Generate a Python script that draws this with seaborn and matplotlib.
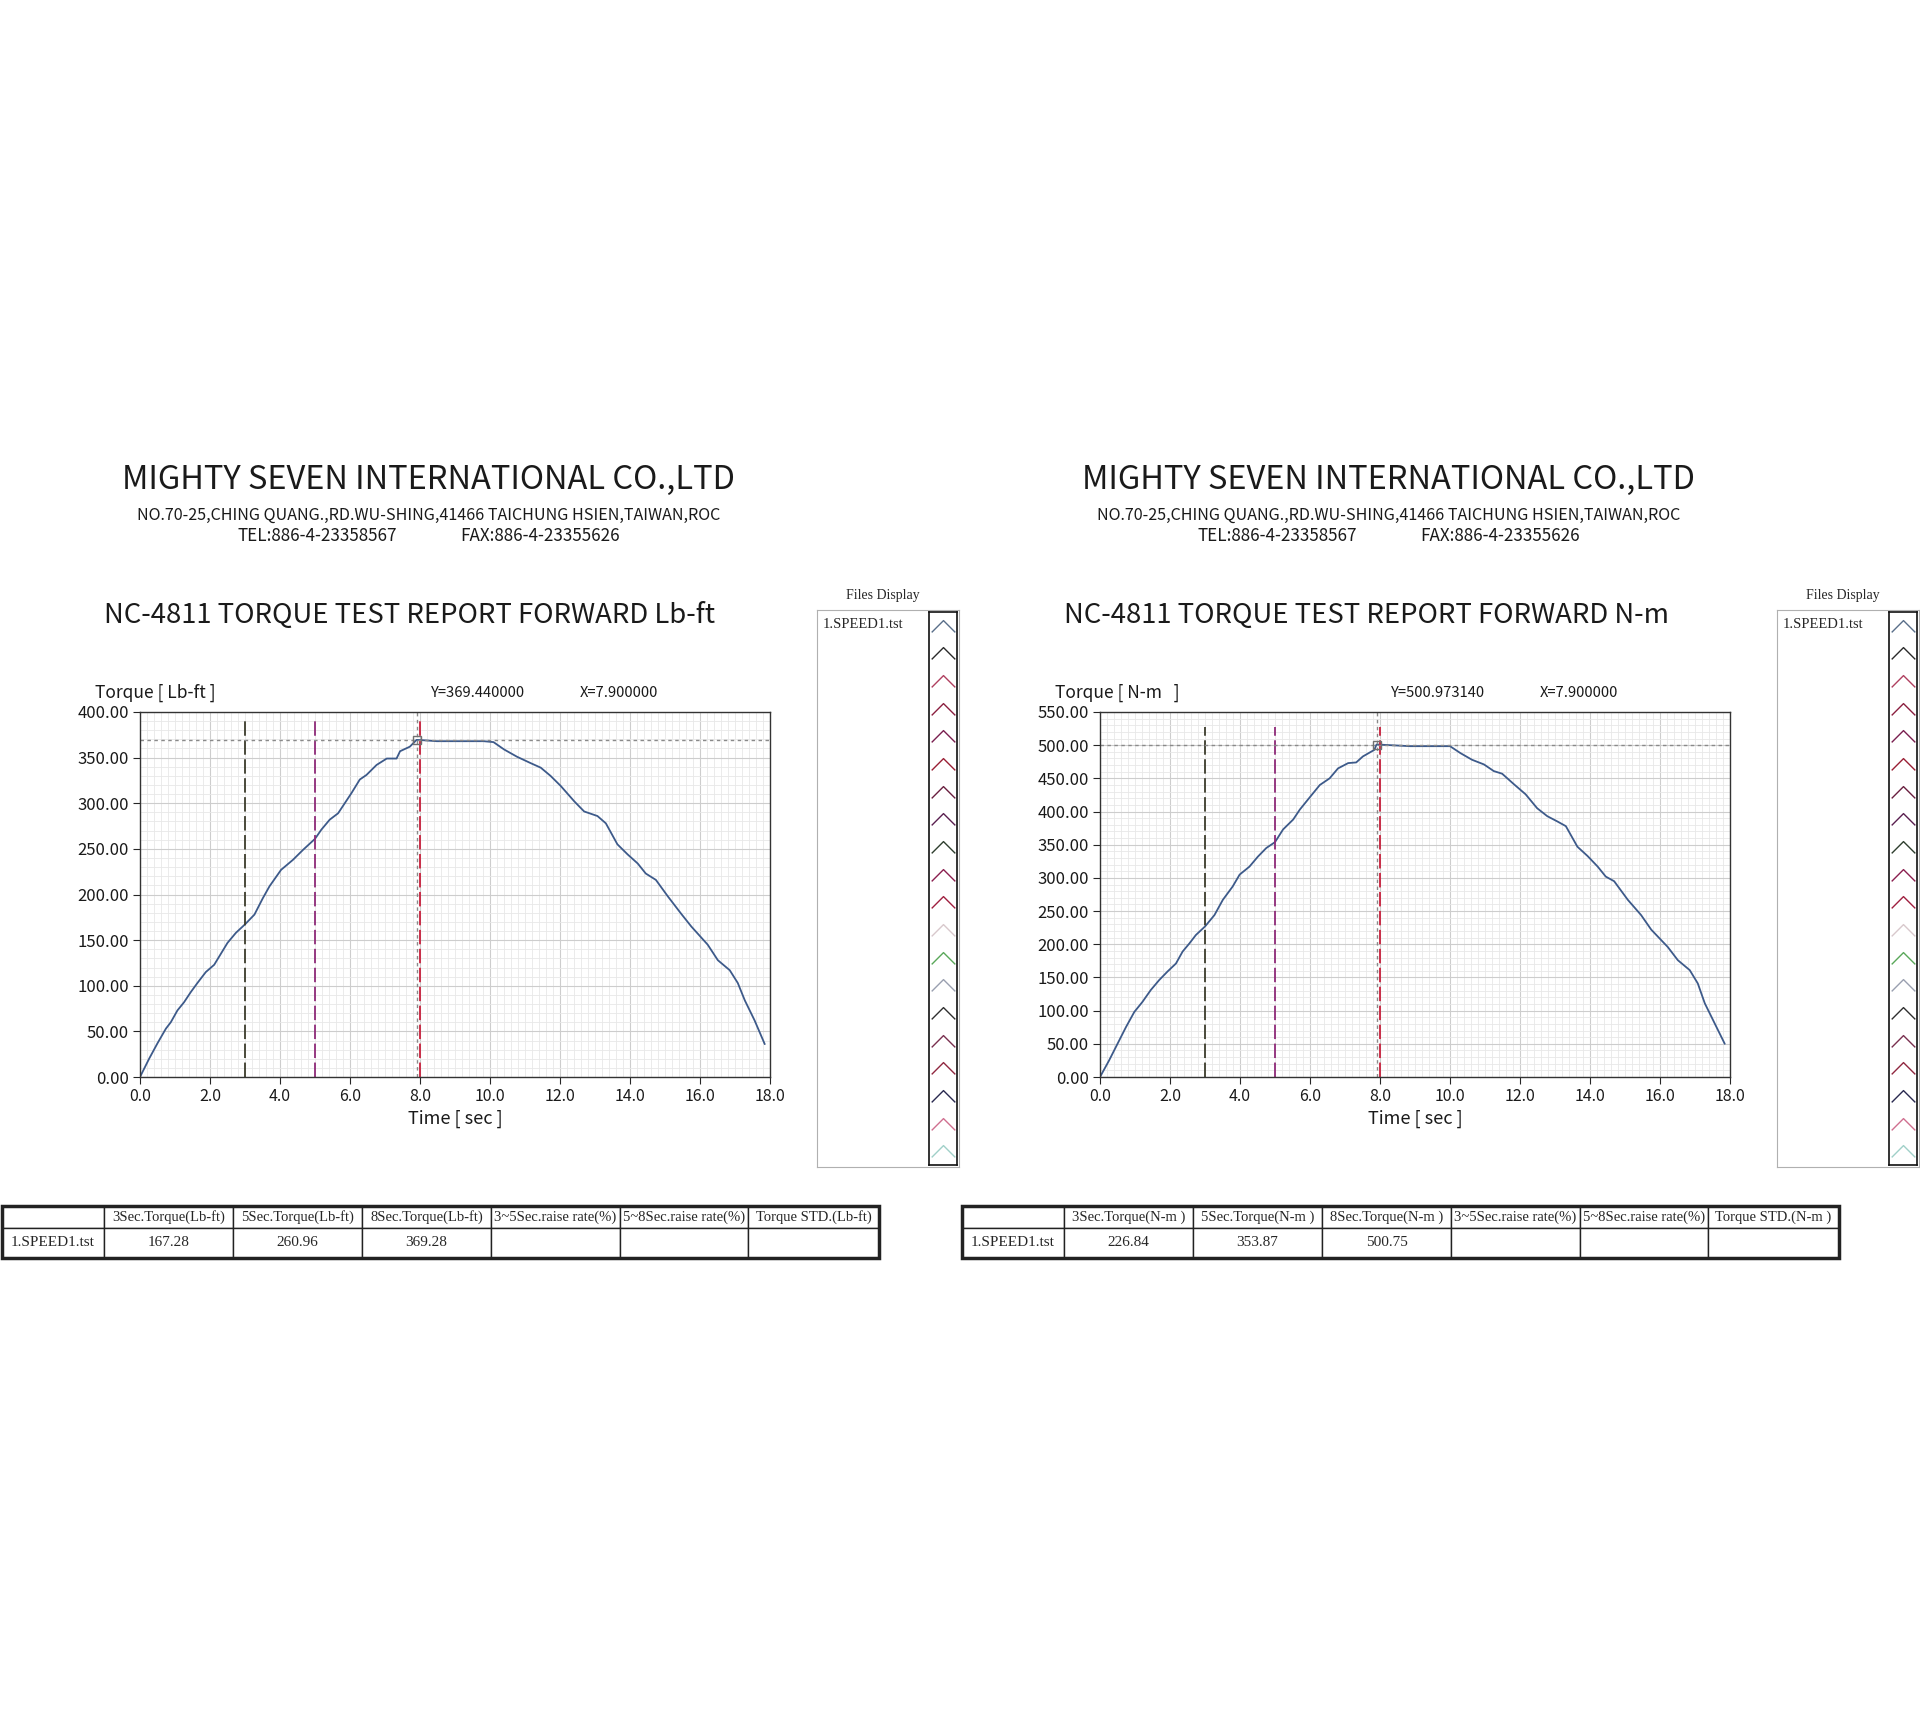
"""
plot.py

Torque test report (Lb-ft and N-m) recreated with seaborn / matplotlib
"""

import numpy as np
import seaborn as sns
from matplotlib import pyplot as plt
from matplotlib.patches import Rectangle
from matplotlib.ticker import MultipleLocator, FormatStrFormatter

sns.set_style('white')
plt.rcParams['font.family'] = ['Noto Sans CJK JP', 'DejaVu Sans']
SERIF = ['Liberation Serif', 'DejaVu Serif']

#------------------------------------------------------------------------------
# Data
#------------------------------------------------------------------------------
time_lbft = [0, 0.26, 0.5, 0.74, 0.88, 1.07, 1.26, 1.45, 1.64, 1.88,
             2.12, 2.31, 2.5, 2.74, 3.0, 3.27, 3.51, 3.7, 4.03, 4.37,
             4.66, 5.0, 5.18, 5.42, 5.66, 5.85, 6.04, 6.28, 6.47, 6.76,
             7.05, 7.33, 7.43, 7.71, 7.9, 8.0, 8.48, 8.86, 9.82, 10.1,
             10.4, 10.77, 11.16, 11.45, 11.73, 12.02, 12.41, 12.69, 13.07, 13.31,
             13.64, 13.93, 14.22, 14.45, 14.74, 15.08, 15.46, 15.75, 16.22, 16.51,
             16.85, 17.08, 17.28, 17.56, 17.85]
torque_lbft = [0, 20, 37, 53, 60, 73, 82, 93, 103, 115,
               123, 135, 147, 158, 167.3, 178, 196, 209, 227, 238,
               249, 261.0, 271, 282, 289, 300, 311, 326, 331, 342,
               349, 349, 357, 362, 369.4, 369.3, 368, 368, 368, 367,
               359, 351, 344, 339, 330, 319, 302, 291, 286, 278,
               255, 244, 234, 223, 216, 198, 179, 165, 145, 128,
               117, 103, 84, 62, 36]

time_nm = [0, 0.26, 0.5, 0.74, 0.98, 1.21, 1.45, 1.69, 1.93, 2.17,
           2.36, 2.55, 2.74, 3.0, 3.27, 3.51, 3.79, 3.99, 4.27, 4.51,
           4.75, 5.0, 5.23, 5.52, 5.71, 5.94, 6.28, 6.56, 6.8, 7.09,
           7.32, 7.51, 7.84, 7.9, 8.0, 8.86, 10.0, 10.3, 10.63, 10.97,
           11.25, 11.49, 11.83, 12.16, 12.49, 12.78, 13.07, 13.31, 13.64, 13.93,
           14.22, 14.45, 14.69, 15.08, 15.46, 15.75, 16.22, 16.51, 16.85, 17.08,
           17.28, 17.56, 17.85]
torque_nm = [0, 25, 50, 75, 98, 113, 131, 146, 159, 171,
             189, 201, 214, 226.8, 244, 267, 287, 305, 317, 332,
             345, 353.9, 373, 388, 403, 418, 440, 450, 465, 473,
             474, 483, 493, 501.0, 500.8, 498.5, 498.5, 488, 478, 471,
             461, 457, 441, 426, 405, 393, 385, 378, 347, 333,
             317, 302, 295, 267, 244, 222, 196, 176, 161, 141,
             111, 81, 50]

marker_times = [3.0, 5.0, 8.0]
cursor_x = 7.9
cursor_y_lbft = 369.44
cursor_y_nm = 500.97314

table_cols_lbft = ['', '3Sec.Torque(Lb-ft)', '5Sec.Torque(Lb-ft)', '8Sec.Torque(Lb-ft)',
                   '3~5Sec.raise rate(%)', '5~8Sec.raise rate(%)', 'Torque STD.(Lb-ft)']
table_row_lbft = ['1.SPEED1.tst', '167.28', '260.96', '369.28', '', '', '']
table_cols_nm = ['', '3Sec.Torque(N-m )', '5Sec.Torque(N-m )', '8Sec.Torque(N-m )',
                 '3~5Sec.raise rate(%)', '5~8Sec.raise rate(%)', 'Torque STD.(N-m )']
table_row_nm = ['1.SPEED1.tst', '226.84', '353.87', '500.75', '', '', '']

file_names = ['1.SPEED1.tst']
company = 'MIGHTY SEVEN INTERNATIONAL CO.,LTD'
address = 'NO.70-25,CHING QUANG.,RD.WU-SHING,41466 TAICHUNG HSIEN,TAIWAN,ROC'
tel = 'TEL:886-4-23358567'
fax = 'FAX:886-4-23355626'

#------------------------------------------------------------------------------
# Styles
#------------------------------------------------------------------------------
marker_colors = ['#3c3c2c', '#8e2a78', '#c8203c']
curve_color = '#3d5a8a'
chevron_colors = ['#5a6f8a', '#2b2b2b', '#b04060', '#8b2040', '#7a2050',
                  '#9a2035', '#6a2040', '#5a2050', '#2f3f2f', '#8b2050',
                  '#a02040', '#d8c8cc', '#5aa85a', '#9aa0b0', '#303030',
                  '#7a3050', '#902840', '#2a2a50', '#d07090', '#a0d0c8']
CHEVRON = [(-1, -0.5), (0, 0.5), (1, -0.5)]
col_px = [102, 129, 129, 129, 129, 128, 131]
TXT = '#1a1a1a'

W, H = 1920, 1734
fig = plt.figure(figsize=(W / 100, H / 100), dpi=100)
fig.patch.set_facecolor('white')


def fx(x):
    return x / W


def fy(y):
    return 1 - y / H


def box(x0, y0, x1, y1):
    return [x0 / W, 1 - y1 / H, (x1 - x0) / W, (y1 - y0) / H]


def draw_panel(dx, unit_label, title, time, torque, ymax, cursor_y, dash_top,
               cols, row):
    # header
    fig.text(fx(429 + dx), fy(480), company, ha='center', va='center',
             fontsize=23.5, color=TXT)
    fig.text(fx(429 + dx), fy(515), address, ha='center', va='center',
             fontsize=11.6, color=TXT)
    fig.text(fx(238 + dx), fy(536), tel, ha='left', va='center', fontsize=12.3, color=TXT)
    fig.text(fx(460 + dx), fy(536), fax, ha='left', va='center', fontsize=12.3, color=TXT)
    fig.text(fx(104 + dx), fy(615), title, ha='left', va='center', fontsize=19.8, color=TXT)

    fig.text(fx(95 + dx), fy(693), f'Torque [ {unit_label} ]', ha='left', va='center',
             fontsize=12.5, color=TXT)
    fig.text(fx(431 + dx), fy(693), f'Y={cursor_y:.6f}', ha='left', va='center',
             fontsize=10.6, color=TXT)
    fig.text(fx(580 + dx), fy(693), f'X={cursor_x:.6f}', ha='left', va='center',
             fontsize=10.6, color=TXT)

    # chart
    ax = fig.add_axes(box(140 + dx, 712, 770 + dx, 1077))
    ax.set_axisbelow(True)
    ax.grid(which='minor', color='#e8e8e8', lw=0.6)
    ax.grid(which='major', color='#cdcdcd', lw=0.8)
    sns.lineplot(x=time, y=torque, ax=ax, color=curve_color, lw=1.3, estimator=None)

    for t, c in zip(marker_times, marker_colors):
        ax.axvline(t, ymin=0, ymax=dash_top, color=c, lw=1.3, dashes=(8, 2.5))
    ax.axvline(cursor_x, color='#8a8a8a', lw=1, dashes=(2.5, 2.5))
    ax.axhline(cursor_y, color='#8a8a8a', lw=1, dashes=(2.5, 2.5))
    ax.plot([cursor_x], [cursor_y], marker='s', ms=6, mfc='none', mec='#707070', mew=1)

    ax.set_xlim(0, 18)
    ax.set_ylim(0, ymax)
    ax.xaxis.set_major_locator(MultipleLocator(2))
    ax.xaxis.set_minor_locator(MultipleLocator(0.2))
    ax.yaxis.set_major_locator(MultipleLocator(50))
    ax.yaxis.set_minor_locator(MultipleLocator(10))
    ax.xaxis.set_major_formatter(FormatStrFormatter('%.1f'))
    ax.yaxis.set_major_formatter(FormatStrFormatter('%.2f'))
    ax.tick_params(which='major', direction='out', length=5, width=0.8,
                   pad=3, left=True, bottom=True, labelcolor=TXT)
    ax.tick_params(axis='x', which='major', labelsize=11.5)
    ax.tick_params(axis='y', which='major', labelsize=12)
    ax.tick_params(which='minor', length=0)
    for s in ax.spines.values():
        s.set_color('#333333')
        s.set_linewidth(1)
    ax.set_xlabel('Time [ sec ]', fontsize=13, labelpad=3, color=TXT)
    ax.set_ylabel('')

    # files display
    fig.text(fx(883 + dx), fy(596), 'Files Display', ha='center', va='center',
             fontsize=10, family=SERIF)
    fa = fig.add_axes(box(817 + dx, 610, 959 + dx, 1167))
    fa.set_xticks([])
    fa.set_yticks([])
    for s in fa.spines.values():
        s.set_color('#b0b0b0')
    for i, name in enumerate(file_names):
        fa.text(0.04, 0.985 - i * 0.03, name, transform=fa.transAxes, ha='left', va='top',
                fontsize=10.5, family=SERIF)

    strip = fig.add_axes(box(929 + dx, 612, 957 + dx, 1165))
    for i, c in enumerate(chevron_colors):
        strip.plot([0], [i], marker=CHEVRON, ms=17, mfc='none', mec=c, mew=1, ls='none')
    strip.set_xlim(-1, 1)
    strip.set_ylim(len(chevron_colors) - 0.5, -0.5)
    strip.set_xticks([])
    strip.set_yticks([])
    for s in strip.spines.values():
        s.set_color('#111111')
        s.set_linewidth(1.2)

    # table
    tax = fig.add_axes(box(2 + dx, 1206, 879 + dx, 1258))
    tax.axis('off')
    widths = [w / sum(col_px) for w in col_px]
    tbl = tax.table(cellText=[row], colLabels=cols, colWidths=widths,
                    cellLoc='center', bbox=[0, 0, 1, 1])
    tbl.auto_set_font_size(False)
    tbl.set_fontsize(10.5)
    for (r, c), cell in tbl.get_celld().items():
        cell.set_edgecolor('#222222')
        cell.set_linewidth(1)
        cell.set_height(22 if r == 0 else 30)
        cell.get_text().set_fontfamily(SERIF)
        if r == 1:
            cell.get_text().set_fontsize(11)
    tax.add_patch(Rectangle((0, 0), 1, 1, transform=tax.transAxes, fill=False,
                            lw=2.5, ec='#222222', clip_on=False))


draw_panel(0, 'Lb-ft', 'NC-4811 TORQUE TEST REPORT FORWARD Lb-ft',
           time_lbft, torque_lbft, 400, cursor_y_lbft, 0.975,
           table_cols_lbft, table_row_lbft)
draw_panel(960, 'N-m  ', 'NC-4811 TORQUE TEST REPORT FORWARD N-m',
           time_nm, torque_nm, 550, cursor_y_nm, 0.96,
           table_cols_nm, table_row_nm)

#------------------------------------------------------------------------------
# Save figure
#------------------------------------------------------------------------------
plt.savefig('out.png', dpi=100)
